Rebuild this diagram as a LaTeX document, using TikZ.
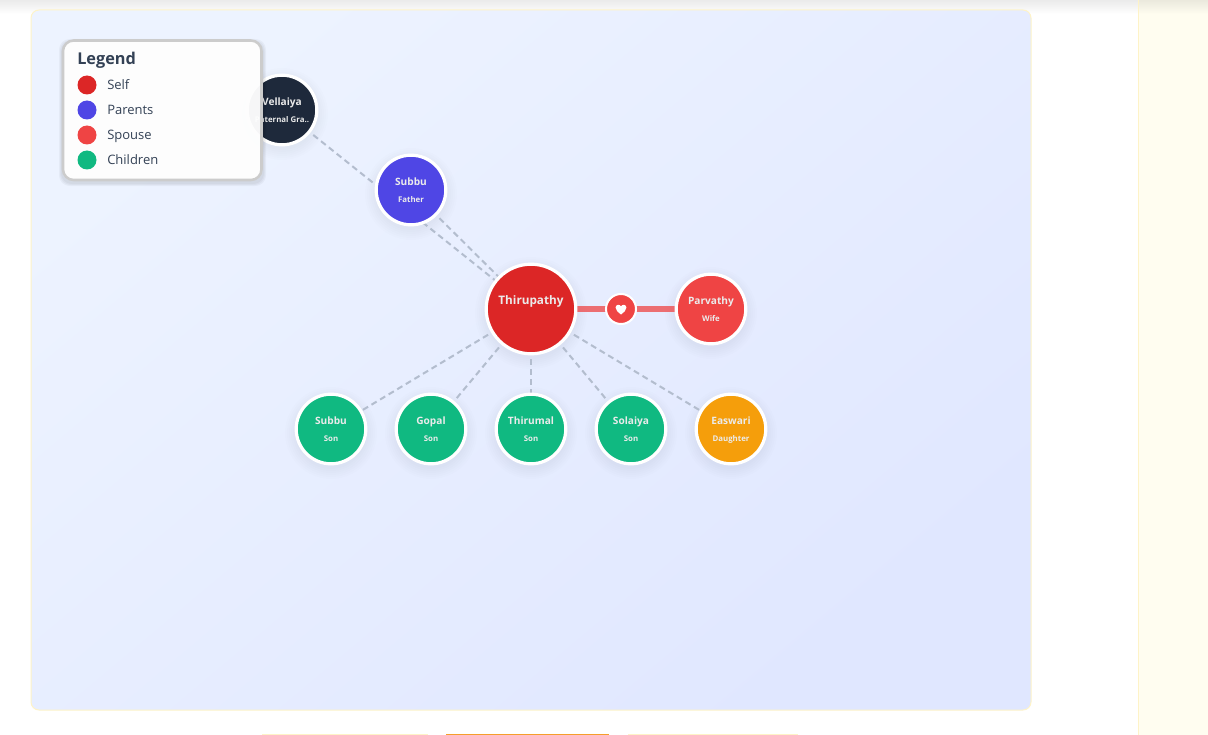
\documentclass[tikz,border=0pt]{standalone}
\usepackage{fontspec}
\setmainfont{Open Sans}
\usetikzlibrary{calc}
\definecolor{selfc}{HTML}{DC2626}
\definecolor{parentc}{HTML}{4F46E5}
\definecolor{spousec}{HTML}{EF4444}
\definecolor{childc}{HTML}{10B981}
\definecolor{daughterc}{HTML}{F59E0B}
\definecolor{grandc}{HTML}{1E293B}
\definecolor{linkc}{HTML}{B3BDCE}
\definecolor{inkc}{HTML}{334155}
\definecolor{paleborder}{HTML}{FEF3C7}
\definecolor{sidec}{HTML}{FFFDF0}
\definecolor{canvasa}{HTML}{EDF3FF}
\definecolor{canvasc}{HTML}{E0E7FF}
\definecolor{tabc}{HTML}{F59E2B}
\tikzset{
  x=0.75pt,y=-0.75pt,
  person/.style={circle,draw=white,line width=2.4pt,inner sep=0pt,minimum size=52.2pt},
  selfnode/.style={person,minimum size=67.2pt},
  nametext/.style={font=\fontsize{7.6pt}{10pt}\selectfont\bfseries,text=white!92!black,inner sep=0pt,anchor=base},
  roletext/.style={font=\fontsize{5.9pt}{8pt}\selectfont\bfseries,text=white!92!black,inner sep=0pt,anchor=base},
  kinlink/.style={draw=linkc,line width=1.5pt,dash pattern=on 4.5pt off 3pt},
  marriage/.style={draw=spousec,draw opacity=.75,line width=4pt},
  dot/.style={circle,inner sep=0pt,minimum size=14.25pt,draw=none},
  legendtext/.style={font=\fontsize{9.75pt}{12pt}\selectfont,text=inkc,anchor=base west,inner sep=0pt},
}
\newcommand{\softshadow}[3]{% x y radius(px)
  \foreach \g in {0,2,4,6,8,10}{
    \fill[black,fill opacity=.009] (#1,#2+4) circle[radius=(#3+\g)*0.75pt];
  }
}
\begin{document}
\begin{tikzpicture}
\useasboundingbox (0,0) rectangle (1208,735);
\fill[white] (0,0) rectangle (1208,735);
% top fade of the page
\shade[top color=black!8,bottom color=white] (0,0) rectangle (1208,14);
% side panel
\shade[top color=black!8!sidec,bottom color=sidec] (1138,0) rectangle (1208,14);
\fill[sidec] (1138,14) rectangle (1208,735);
\draw[paleborder,line width=.75pt] (1138.5,0) -- (1138.5,735);
% lower tabs
\draw[paleborder,line width=1pt] (262,734.5) -- (428,734.5);
\draw[tabc,line width=1pt] (446,734.5) -- (609,734.5);
\draw[paleborder,line width=1pt] (628,734.5) -- (798,734.5);
% canvas
\shade[rounded corners=6pt,top color=canvasa,bottom color=canvasc,shading angle=40] (31,10) rectangle (1031,710);
\draw[paleborder,line width=.75pt,rounded corners=6pt] (31,10) rectangle (1031,710);
% shadows
\softshadow{282}{110}{36}
\softshadow{411}{190}{36}
\softshadow{531}{309}{46}
\softshadow{711}{309}{36}
\softshadow{331}{429}{36}
\softshadow{431}{429}{36}
\softshadow{531}{429}{36}
\softshadow{631}{429}{36}
\softshadow{731}{429}{36}
% node positions first, so connectors can sit behind them
\coordinate (cg) at (282,110);
\coordinate (cf) at (411,190);
\coordinate (cs) at (531,309);
\coordinate (cw) at (711,309);
\coordinate (cm) at (621,309);
\coordinate (c1) at (331,429);
\coordinate (c2) at (431,429);
\coordinate (c3) at (531,429);
\coordinate (c4) at (631,429);
\coordinate (c5) at (731,429);
% connectors
\draw[kinlink] (cg) -- (cs);
\draw[kinlink] (cf) -- (cs);
\draw[kinlink] (cs) -- (c1);
\draw[kinlink] (cs) -- (c2);
\draw[kinlink] (cs) -- (c3);
\draw[kinlink] (cs) -- (c4);
\draw[kinlink] (cs) -- (c5);
\draw[marriage] (cs) -- (cw);
% people
\node[person,fill=grandc] (grand) at (cg) {};
\node[nametext] (grandn) at ($(grand)+(0,-4.7)$) {Vellaiya};
\node[roletext] (grandr) at ($(grand)+(0,12.3)$) {Paternal Gra..};
\node[person,fill=parentc] (father) at (cf) {};
\node[nametext] (fathern) at ($(father)+(0,-4.7)$) {Subbu};
\node[roletext] (fatherr) at ($(father)+(0,12.3)$) {Father};
\node[selfnode,fill=selfc] (self) at (cs) {};
\node[nametext,font=\fontsize{8.8pt}{12pt}\selectfont\bfseries] (selfn) at ($(self)+(0,-4.7)$) {Thirupathy};
\node[person,fill=spousec] (wife) at (cw) {};
\node[nametext] (wifen) at ($(wife)+(0,-4.7)$) {Parvathy};
\node[roletext] (wifer) at ($(wife)+(0,12.3)$) {Wife};
\node[circle,draw=white,line width=1.5pt,fill=spousec,inner sep=0pt,minimum size=22.5pt] (heart) at (cm) {};
\fill[white] (621,314.5) .. controls (618,312) and (615.6,310.5) .. (615.6,307.6)
  .. controls (615.6,304.6) and (619.6,303.8) .. (621,306.4)
  .. controls (622.4,303.8) and (626.4,304.6) .. (626.4,307.6)
  .. controls (626.4,310.5) and (624,312) .. (621,314.5) -- cycle;
\node[person,fill=childc] (k1) at (c1) {};
\node[nametext] (k1n) at ($(k1)+(0,-4.7)$) {Subbu};
\node[roletext] (k1r) at ($(k1)+(0,12.3)$) {Son};
\node[person,fill=childc] (k2) at (c2) {};
\node[nametext] (k2n) at ($(k2)+(0,-4.7)$) {Gopal};
\node[roletext] (k2r) at ($(k2)+(0,12.3)$) {Son};
\node[person,fill=childc] (k3) at (c3) {};
\node[nametext] (k3n) at ($(k3)+(0,-4.7)$) {Thirumal};
\node[roletext] (k3r) at ($(k3)+(0,12.3)$) {Son};
\node[person,fill=childc] (k4) at (c4) {};
\node[nametext] (k4n) at ($(k4)+(0,-4.7)$) {Solaiya};
\node[roletext] (k4r) at ($(k4)+(0,12.3)$) {Son};
\node[person,fill=daughterc] (k5) at (c5) {};
\node[nametext] (k5n) at ($(k5)+(0,-4.7)$) {Easwari};
\node[roletext] (k5r) at ($(k5)+(0,12.3)$) {Daughter};
% legend
\foreach \g in {1,2,3}{
  \fill[black,fill opacity=.035,rounded corners=8pt] (62-\g,42-\g) rectangle (263+\g,183+\g);
}
\draw[draw=black!20,line width=1.9pt,fill=white,fill opacity=.96,rounded corners=8pt] (63,40.5) rectangle (261.5,180);
\node[anchor=base west,inner sep=0pt,text=inkc,font=\fontsize{12.2pt}{14pt}\selectfont\bfseries] (legend) at (77,65) {Legend};
\node[dot,fill=selfc] (d1) at (87,85) {};
\node[legendtext] (t1) at (107,90) {Self};
\node[dot,fill=parentc] (d2) at (87,110) {};
\node[legendtext] (t2) at (107,115) {Parents};
\node[dot,fill=spousec] (d3) at (87,135) {};
\node[legendtext] (t3) at (107,140) {Spouse};
\node[dot,fill=childc] (d4) at (87,160) {};
\node[legendtext] (t4) at (107,165) {Children};
\end{tikzpicture}
\end{document}
